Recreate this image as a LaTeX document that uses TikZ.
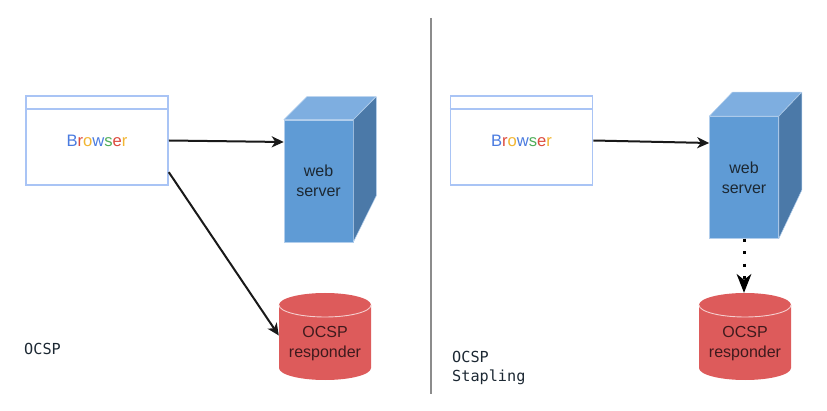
\documentclass[tikz,border=0pt]{standalone}
\usepackage{fontspec}
\setmainfont{Liberation Sans}
\newfontfamily\codefont{DejaVu Sans Mono}
\usetikzlibrary{arrows.meta,calc}
\definecolor{winblue}{HTML}{A9C4F5}
\definecolor{srvfront}{HTML}{5F9BD5}
\definecolor{srvtop}{HTML}{7EAEE0}
\definecolor{srvside}{HTML}{4B79A8}
\definecolor{dbred}{HTML}{DD5B5B}
\definecolor{lbl}{HTML}{1C2833}
\definecolor{dbl}{HTML}{3F1A1D}
\definecolor{gb}{HTML}{4A7BE0}
\definecolor{gr}{HTML}{DD4B3E}
\definecolor{gy}{HTML}{F2B632}
\definecolor{gg}{HTML}{4FAE5A}
\tikzset{
  winbox/.style={draw=winblue,line width=1.6pt,fill=white,minimum width=142pt,minimum height=89pt,inner sep=0pt,font=\fontsize{16.6}{16}\selectfont},
  srvfrontbox/.style={fill=srvfront,draw=srvtop!60!white,line width=.5pt,minimum width=69pt,minimum height=122pt,inner sep=0pt,align=center,text=lbl,font=\fontsize{16}{20}\selectfont},
  srvtopface/.style={fill=srvtop,draw=srvtop!60!white,line width=.5pt,line join=round},
  srvsideface/.style={fill=srvside,draw=srvtop!60!white,line width=.5pt,line join=round},
  dbbox/.style={inner sep=0pt,minimum width=92pt,minimum height=87pt},
  dbtext/.style={inner sep=0pt,align=center,text=dbl,font=\fontsize{16}{20}\selectfont},
  dbface/.style={fill=dbred,draw=none},
  dbrim/.style={draw=white!70!dbred,line width=.9pt},
  conn/.style={draw=black!90,line width=2pt,-{Stealth[length=12pt,width=11pt,inset=3.5pt]}},
  dotconn/.style={draw=black,line width=3pt,dash pattern=on 3pt off 9.5pt,-{Stealth[length=19pt,width=15pt,inset=6pt,line width=0pt]}},
  divider/.style={draw=black!45,line width=1.5pt},
  caption/.style={inner sep=0pt,anchor=west,text=lbl,font=\codefont\fontsize{15.2}{20}\selectfont}
}
\newcommand{\gbrowser}{{\color{gb}B}{\color{gr}r}{\color{gy}o}{\color{gb}w}{\color{gg}s}{\color{gr}e}{\color{gy}r}}
\begin{document}
\begin{tikzpicture}[x=1pt,y=-1pt]
\useasboundingbox (0,0) rectangle (827,411);
% divider
\coordinate (divtop) at (431,18);
\coordinate (divbot) at (431,394);
\draw[divider] (divtop) -- (divbot);
% left browser
\node[winbox] (bl) at (97,140.5) {\gbrowser};
\draw[winblue,line width=1.6pt] ($(bl.north west)+(0,14)$) -- ($(bl.north east)+(0,14)$);
% right browser
\node[winbox] (br) at (521.5,140.5) {\gbrowser};
\draw[winblue,line width=1.6pt] ($(br.north west)+(0,14)$) -- ($(br.north east)+(0,14)$);
% left server
\node[srvfrontbox] (sl) at (318.5,181) {web\\server};
\fill[srvtopface] (sl.north west) -- ++(23,-23) -- ++(69,0) -- (sl.north east) -- cycle;
\fill[srvsideface] (sl.north east) -- ++(23,-23) -- ++(0,99) -- (sl.south east) -- cycle;
% right server
\node[srvfrontbox] (sr) at (744,177.5) {web\\server};
\fill[srvtopface] (sr.north west) -- ++(23,-24) -- ++(69,0) -- (sr.north east) -- cycle;
\fill[srvsideface] (sr.north east) -- ++(23,-24) -- ++(0,98) -- (sr.south east) -- cycle;
% left database
\path[dbface] (279,305) arc[start angle=180,end angle=0,x radius=46pt,y radius=12pt] -- (371,368) arc[start angle=360,end angle=180,x radius=46pt,y radius=12pt] -- cycle;
\draw[dbrim] (279,305) arc[start angle=180,end angle=360,x radius=46pt,y radius=12pt];
\node[dbbox] (dl) at (325,336.5) {};
\node[dbtext] (tl) at (325,344) {OCSP\\responder};
% right database
\path[dbface] (699,305) arc[start angle=180,end angle=0,x radius=46pt,y radius=12pt] -- (791,368) arc[start angle=360,end angle=180,x radius=46pt,y radius=12pt] -- cycle;
\draw[dbrim] (699,305) arc[start angle=180,end angle=360,x radius=46pt,y radius=12pt];
\node[dbbox] (dr) at (745,336.5) {};
\node[dbtext] (tr) at (745,344) {OCSP\\responder};
% connectors
\draw[conn] (bl.east) -- ($(sl.west)+(0,-39)$);
\coordinate (blout) at ($(bl.north east)+(0,77)$);
\coordinate (dlin) at ($(dl.west)+(0,-1)$);
\draw[conn] (blout) -- (dlin);
\draw[conn] (br.east) -- ($(sr.west)+(0,-34.5)$);
\draw[dotconn] (sr.south) -- (sr.south |- dr.north);
% captions
\node[caption] (c1) at (24,349) {OCSP};
\node[caption] (c2) at (452,357) {OCSP};
\node[caption] (c3) at (452,377) {Stapling};
\end{tikzpicture}
\end{document}
